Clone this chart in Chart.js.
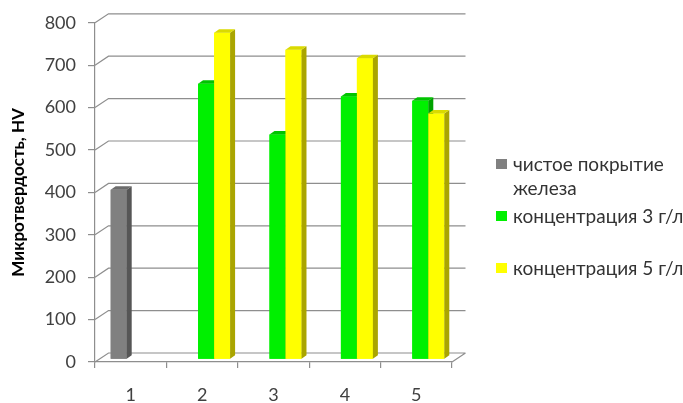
<!DOCTYPE html>
<html>
<head>
<meta charset="utf-8">
<script src="https://cdn.jsdelivr.net/npm/chart.js@4.4.0/dist/chart.umd.min.js"></script>
<style>
  html, body { margin: 0; padding: 0; background: #fff; }
</style>
</head>
<body>
<canvas id="hvChart" width="683" height="403"></canvas>
<script>
const categories = ['1', '2', '3', '4', '5'];
const seriesLabels = ['чистое покрытие железа', 'концентрация 3 г/л', 'концентрация 5 г/л'];
const pureIron = [400, null, null, null, null];
const conc3 = [null, 650, 530, 620, 610];
const conc5 = [null, 770, 730, 710, 580];
const yTicks = [0, 100, 200, 300, 400, 500, 600, 700, 800];

const frontColors = ['#808080', '#00f000', '#ffff00'];
const sideColors = ['#565656', '#00a200', '#aaa500'];
const topColors = ['#6c6c6c', '#00c400', '#dada00'];

const FONT = '"Lato", "Open Sans", sans-serif';
const GRID = '#8e8e8e';

// 3d offsets
const WALL_DX = 13.5, WALL_DY = -9;
const SHIFT_X = 4, SHIFT_Y = -2.7;
const BAR_DX = 5, BAR_DY = -3.5;

function poly(ctx, pts, color) {
    ctx.beginPath();
    ctx.moveTo(pts[0][0], pts[0][1]);
    for (let i = 1; i < pts.length; i++) ctx.lineTo(pts[i][0], pts[i][1]);
    ctx.closePath();
    ctx.fillStyle = color;
    ctx.fill();
}

const wallPlugin = {
    id: 'wall',
    beforeDatasetsDraw(chart) {
        const { ctx, chartArea: a, scales: { y } } = chart;
        ctx.save();
        ctx.strokeStyle = GRID;
        ctx.lineWidth = 1.2;
        yTicks.forEach(v => {
            const py = y.getPixelForValue(v);
            ctx.beginPath();
            ctx.moveTo(a.left, py);
            ctx.lineTo(a.left + WALL_DX, py + WALL_DY);
            ctx.lineTo(a.right + WALL_DX, py + WALL_DY);
            if (v === 0) {
                ctx.moveTo(a.right, py);
                ctx.lineTo(a.right + WALL_DX, py + WALL_DY);
            }
            ctx.stroke();
        });
        ctx.restore();
        ctx.save();
        ctx.translate(SHIFT_X, SHIFT_Y);
    },
    afterDatasetsDraw(chart) {
        const ctx = chart.ctx;
        categories.forEach((c, i) => {
            chart.data.datasets.forEach((ds, d) => {
                if (ds.data[i] == null) return;
                const bar = chart.getDatasetMeta(d).data[i];
                bar.draw(ctx);
                const { x, y, base, width } = bar.getProps(['x', 'y', 'base', 'width'], true);
                const l = x - width / 2, r = x + width / 2;
                poly(ctx, [[r, y], [r + BAR_DX, y + BAR_DY], [r + BAR_DX, base + BAR_DY], [r, base]], sideColors[d]);
                poly(ctx, [[l, y], [l + BAR_DX, y + BAR_DY], [r + BAR_DX, y + BAR_DY], [r, y]], topColors[d]);
            });
        });
        ctx.restore();
    }
};

function wrapText(ctx, text, maxWidth) {
    const words = text.split(' ');
    const lines = [];
    let line = '';
    words.forEach(w => {
        const test = line ? line + ' ' + w : w;
        if (line && ctx.measureText(test).width > maxWidth) {
            lines.push(line);
            line = w;
        } else {
            line = test;
        }
    });
    lines.push(line);
    return lines;
}

const legendPlugin = {
    id: 'sideLegend',
    afterDraw(chart) {
        const ctx = chart.ctx;
        ctx.save();
        ctx.font = '19px ' + FONT;
        ctx.textBaseline = 'middle';
        chart.data.datasets.forEach((ds, d) => {
            const cy = 164 + d * 52;
            ctx.fillStyle = ds.backgroundColor;
            ctx.fillRect(496, cy - 5, 11, 10);
            ctx.fillStyle = '#333';
            wrapText(ctx, ds.label, 172).forEach((ln, k) => {
                ctx.fillText(ln, 513, cy + 1 + k * 24);
            });
        });
        ctx.restore();
    }
};

const ctx = document.getElementById('hvChart').getContext('2d');
const hvChart = new Chart(ctx, {
    type: 'bar',
    data: {
        labels: categories,
        datasets: [
            { label: seriesLabels[0], data: pureIron, backgroundColor: frontColors[0] },
            { label: seriesLabels[1], data: conc3, backgroundColor: frontColors[1] },
            { label: seriesLabels[2], data: conc5, backgroundColor: frontColors[2] },
        ],
    },
    options: {
        responsive: false,
        animation: false,
        devicePixelRatio: 1,
        clip: false,
        categoryPercentage: 0.672,
        barPercentage: 1,
        layout: { padding: { top: 22, right: 231, left: 0, bottom: 0 } },
        plugins: {
            legend: { display: false },
            tooltip: { enabled: false },
        },
        scales: {
            x: {
                grid: { drawOnChartArea: false, tickLength: 6, color: GRID, lineWidth: 1.2 },
                border: { color: GRID, width: 1.2 },
                ticks: { font: { family: FONT, size: 18 }, color: '#404040', padding: 16 },
                afterFit(s) { s.height = 41; },
            },
            y: {
                min: 0,
                max: 800,
                afterBuildTicks(s) { s.ticks = yTicks.map(v => ({ value: v })); },
                grid: { drawOnChartArea: false, tickLength: 7, color: GRID, lineWidth: 1.2 },
                border: { color: GRID, width: 1.2 },
                ticks: { font: { family: FONT, size: 18 }, color: '#404040', padding: 12 },
                title: {
                    display: true,
                    text: 'Микротвердость, HV',
                    font: { family: FONT, size: 17, weight: 'bold' },
                    color: '#000',
                    padding: { top: 8, bottom: 0 },
                },
                afterFit(s) { s.width = 95; },
            },
        },
    },
    plugins: [wallPlugin, legendPlugin],
});
</script>
</body>
</html>
